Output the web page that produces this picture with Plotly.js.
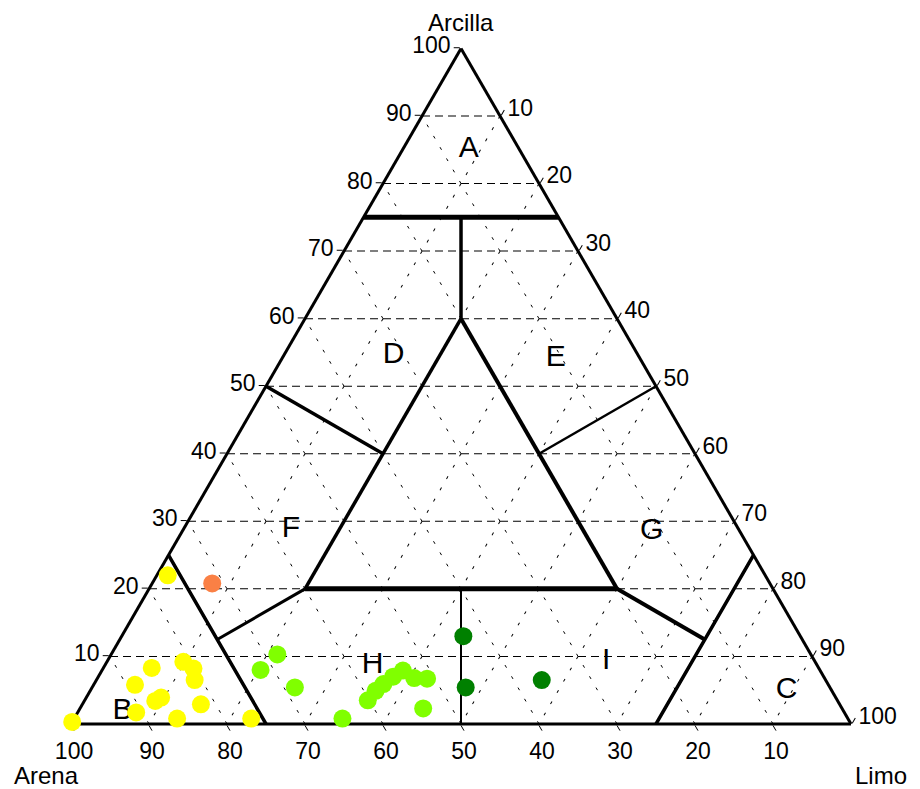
<!DOCTYPE html>
<html>
<head>
<meta charset="utf-8">
<script src="https://cdn.plot.ly/plotly-3.0.1.min.js"></script>
<style>html,body{margin:0;padding:0;background:#fff;}#chart{width:920px;height:789px;}</style>
</head>
<body>
<div id="chart"></div>
<script>
// Tick values (percent)
const tickValues = [10, 20, 30, 40, 50, 60, 70, 80, 90, 100];
const axisTitles = ['Arcilla', 'Arena', 'Limo'];

// Texture-class boundaries, points as [arena, limo, arcilla]
const lineA = [[25, 0, 75], [0, 25, 75]];
const lineAD = [[12.5, 12.5, 75], [20, 20, 60]];
const lineCenterLeft = [[20, 20, 60], [60, 20, 20]];
const lineCenterRight = [[20, 20, 60], [20, 60, 20]];
const lineCenterBottom = [[60, 20, 20], [20, 60, 20]];
const lineDF = [[50, 0, 50], [40, 20, 40]];
const lineEG = [[20, 40, 40], [0, 50, 50]];
const lineFH = [[60, 20, 20], [75, 12.5, 12.5]];
const lineGI = [[20, 60, 20], [12.5, 75, 12.5]];
const lineB = [[75, 0, 25], [75, 12.5, 12.5], [75, 25, 0]];
const lineC = [[0, 75, 25], [12.5, 75, 12.5], [25, 75, 0]];
const lineHI = [[40, 40, 20], [50, 50, 0]];

// Class letters
const classLabels = ['A', 'B', 'C', 'D', 'E', 'F', 'G', 'H', 'I'];
const classSand = [6.5, 92.5, 5.8, 31.4, 10.8, 57.4, 11.3, 57, 26.8];
const classSilt = [8.5, 5.7, 89.3, 14.1, 35.1, 13.8, 60.2, 34.3, 64];
const classClay = [85, 1.8, 4.9, 54.5, 54.1, 28.8, 28.5, 8.7, 9.2];

// Samples
const yellowSand = [76.6, 99.7, 85.5, 81, 80.2, 80.9, 88.9, 87.5, 86.5, 90.8, 86, 81.9, 76.5];
const yellowSilt = [1.4, 0, 6.2, 9.8, 11.6, 12.6, 5.3, 9.1, 9.6, 7.5, 13.2, 15.2, 22.7];
const yellowClay = [22.0, 0.3, 8.3, 9.2, 8.2, 6.5, 5.8, 3.4, 3.9, 1.7, 0.8, 2.9, 0.8];

const orangeSand = [71.5];
const orangeSilt = [7.7];
const orangeClay = [20.8];

const lightSand = [68.4, 71.7, 68.6, 64.8, 60.2, 58.5, 57, 55.2, 53.5, 52.6, 51, 53.7];
const lightSilt = [21.3, 20.3, 26.0, 34.4, 36.3, 36.6, 37.1, 37.8, 38.6, 40.6, 42.3, 44.0];
const lightClay = [10.3, 8.0, 5.4, 0.8, 3.5, 4.9, 5.9, 7.0, 7.9, 6.8, 6.7, 2.3];

const darkSand = [43.2, 46.7, 36.4];
const darkSilt = [43.8, 47.9, 57.1];
const darkClay = [13.0, 5.4, 6.5];

const FONT = 'Liberation Sans, Arial, sans-serif';

function seg(pts, w) {
  return {
    type: 'scatterternary', mode: 'lines',
    a: pts.map(p => p[2]), b: pts.map(p => p[0]), c: pts.map(p => p[1]),
    line: {color: '#000', width: w}, hoverinfo: 'skip', showlegend: false, cliponaxis: false
  };
}
function pts(sand, silt, clay, color) {
  return {
    type: 'scatterternary', mode: 'markers',
    a: clay, b: sand, c: silt,
    marker: {color: color, size: 18, line: {width: 0}},
    showlegend: false, cliponaxis: false
  };
}

const traces = [
  seg(lineA, 5), seg(lineAD, 3.5), seg(lineCenterLeft, 3.5), seg(lineCenterRight, 4),
  seg(lineCenterBottom, 5), seg(lineDF, 3.5), seg(lineEG, 2.5), seg(lineFH, 3),
  seg(lineGI, 4), seg(lineB, 3.5), seg(lineC, 3.5), seg(lineHI, 2),
  {
    type: 'scatterternary', mode: 'text',
    a: classClay, b: classSand, c: classSilt, text: classLabels,
    textposition: 'middle center',
    textfont: {family: FONT, size: 30, color: '#000'},
    hoverinfo: 'skip', showlegend: false, cliponaxis: false
  },
  pts(yellowSand, yellowSilt, yellowClay, '#FFFF00'),
  pts(orangeSand, orangeSilt, orangeClay, '#FA8045'),
  pts(lightSand, lightSilt, lightClay, '#80FF00'),
  pts(darkSand, darkSilt, darkClay, '#008000')
];

function axis(dash) {
  return {
    title: {text: ''},
    min: 0,
    tickmode: 'array', tickvals: tickValues, ticktext: tickValues.map(String),
    ticks: 'outside', ticklen: 6, tickwidth: 1, tickcolor: '#000',
    tickfont: {family: FONT, size: 23, color: '#000'},
    showgrid: true, gridcolor: '#000', gridwidth: 1, griddash: dash,
    showline: true, linecolor: '#000', linewidth: 3,
    layer: 'below traces'
  };
}

function title(text, x, y) {
  return {
    text: text, xref: 'paper', yref: 'paper', x: x, y: y,
    xanchor: 'center', yanchor: 'middle', showarrow: false,
    font: {family: FONT, size: 24, color: '#000'}
  };
}

const layout = {
  width: 920, height: 789,
  margin: {l: 0, r: 0, t: 0, b: 0},
  paper_bgcolor: '#fff',
  showlegend: false,
  ternary: {
    sum: 100,
    domain: {x: [0.0772, 0.925], y: [0.082, 0.939]},
    bgcolor: '#fff',
    aaxis: axis('8px,5px'),
    baxis: axis('3px,10px'),
    caxis: axis('3px,10px')
  },
  annotations: [
    title(axisTitles[0], 0.501, 0.972),
    title(axisTitles[1], 0.05, 0.0177),
    title(axisTitles[2], 0.9576, 0.0177)
  ]
};

Plotly.newPlot('chart', traces, layout, {displayModeBar: false, staticPlot: true});
</script>
</body>
</html>
